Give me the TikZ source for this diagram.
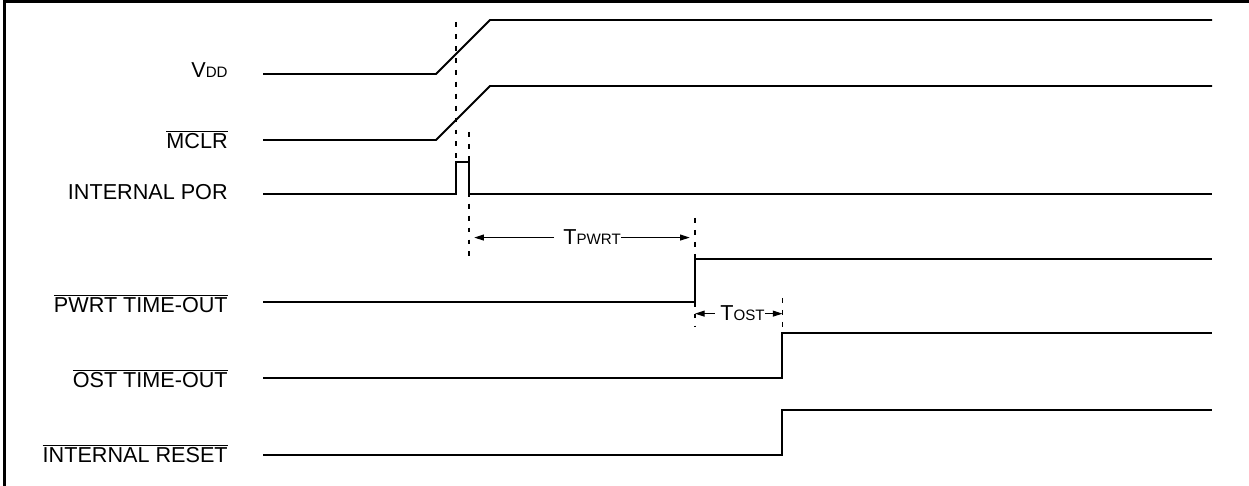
\documentclass[tikz,border=0pt]{standalone}
\usepackage{fontspec}
\setmainfont{Liberation Sans}
\usetikzlibrary{arrows.meta}
\newcommand\lowbar[1]{$\overline{\mbox{#1}}$}
\newcommand\smallcap[1]{{\fontsize{8.6}{10}\selectfont #1}}

\begin{document}
\begin{tikzpicture}[x=0.02cm,y=-0.02cm,
  wave/.style={line width=1.1pt,line join=miter},
  guide/.style={line width=0.6pt,dash pattern=on 2.8pt off 4pt},
  span/.style={line width=0.6pt,-{Triangle[length=5.5pt,width=3.4pt]}},
  signame/.style={anchor=base east,inner sep=0pt,font=\fontsize{12.3}{14}\selectfont},
  period/.style={anchor=base west,inner sep=0pt,font=\fontsize{12.3}{14}\selectfont}]
  \useasboundingbox (0,0) rectangle (1249,486);
  % Only the top and left edges of the frame are inside the crop.
  \draw[line width=1.4pt] (4.5,492) -- (4.5,1.5) -- (1255,1.5);
  % Signal names, right aligned.
  \node[signame] (vdd) at (228,78) {V\smallcap{DD}};
  \node[signame] (mclr) at (228,149) {\lowbar{MCLR}};
  \node[signame] (por) at (228,200) {INTERNAL POR};
  \node[signame] (pwrt) at (228,313) {\lowbar{PWRT TIME-OUT}};
  \node[signame] (ost) at (228,388) {\lowbar{OST TIME-OUT}};
  \node[signame] (rst) at (228,463) {\lowbar{INTERNAL RESET}};
  % Waveforms.
  \draw[wave] (263,74) -- (436,74) -- (490,20) -- (1212,20);
  \draw[wave] (263,140) -- (436,140) -- (490,86) -- (1212,86);
  \draw[wave] (263,194) -- (456,194) -- (456,162) -- (469,162) -- (469,194) -- (1212,194);
  \draw[wave] (263,302) -- (695,302) -- (695,259) -- (1212,259);
  \draw[wave] (263,378) -- (782,378) -- (782,333) -- (1212,333);
  \draw[wave] (263,455) -- (782,455) -- (782,410) -- (1212,410);
  % Dashed markers at the edges that bound the delays.
  \coordinate (porRise) at (456,22);
  \coordinate (porFall) at (469,132);
  \coordinate (pwrtEdge) at (695,218);
  \coordinate (ostEdge) at (782.5,298);
  \draw[guide] (porRise) -- (456,162);
  \draw[guide] (porFall) -- (469,262);
  \draw[guide] (pwrtEdge) -- (695,327);
  \draw[guide] (ostEdge) -- (782.5,345);
  % Delay spans.
  \node[period] (tpwrt) at (563,245) {T\smallcap{PWRT}};
  \draw[span,shorten <=5pt,shorten >=3pt] (tpwrt.west) -- (tpwrt.west -| porFall);
  \draw[span,shorten >=3pt] (tpwrt.east) -- (tpwrt.east -| pwrtEdge);
  \node[period] (tost) at (720,321) {T\smallcap{OST}};
  \draw[span,shorten <=3pt] (tost.west) -- (tost.west -| pwrtEdge);
  \draw[span] (tost.east) -- (tost.east -| ostEdge);
\end{tikzpicture}
\end{document}
